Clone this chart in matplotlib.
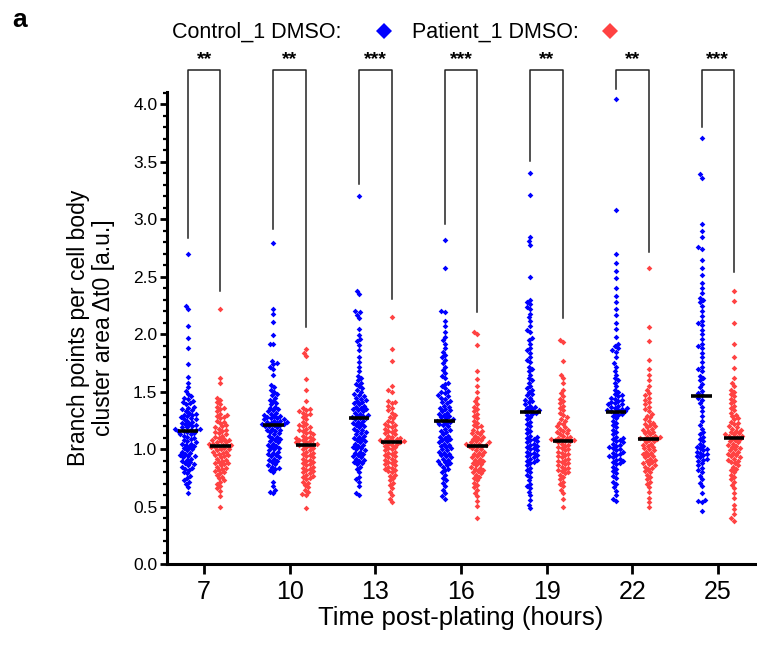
import numpy as np
import matplotlib
matplotlib.use("Agg")
import matplotlib.pyplot as plt
from matplotlib.lines import Line2D
from matplotlib.ticker import MultipleLocator

plt.rcParams['font.family'] = ['Liberation Sans', 'DejaVu Sans']

# time points (hours) and significance
times = [7, 10, 13, 16, 19, 22, 25]
stars = ["**", "**", "***", "***", "**", "**", "***"]
# bottom ends of the bracket legs
leg_ctrl = [2.84, 2.92, 3.31, 2.96, 3.51, 4.13, 3.80]
leg_pat = [2.38, 2.06, 2.31, 2.19, 2.14, 2.72, 2.54]
bracket_top = 4.30

# Control_1 DMSO, one list per time point
c7 = [2.70, 2.25, 2.22, 2.07, 1.97, 1.88, 1.74, 1.63, 1.58, 1.54, 1.51, 1.48, 1.46, 1.45, 1.44,
      1.42, 1.41, 1.40, 1.39, 1.37, 1.36, 1.35, 1.34, 1.33, 1.32, 1.31, 1.30, 1.30, 1.29, 1.28,
      1.27, 1.26, 1.26, 1.25, 1.24, 1.23, 1.22, 1.22, 1.21, 1.20, 1.19, 1.19, 1.18, 1.18, 1.17,
      1.17, 1.16, 1.16, 1.15, 1.14, 1.13, 1.13, 1.12, 1.11, 1.10, 1.09, 1.08, 1.07, 1.06, 1.05,
      1.05, 1.04, 1.03, 1.02, 1.01, 1.00, 0.99, 0.98, 0.97, 0.96, 0.95, 0.94, 0.94, 0.93, 0.92,
      0.91, 0.90, 0.89, 0.88, 0.87, 0.86, 0.85, 0.84, 0.83, 0.82, 0.80, 0.79, 0.77, 0.75, 0.73,
      0.72, 0.70, 0.67, 0.62]
c10 = [2.79, 2.22, 2.18, 2.11, 1.99, 1.92, 1.92, 1.77, 1.75, 1.74, 1.72, 1.70, 1.65, 1.56, 1.54,
       1.52, 1.50, 1.48, 1.47, 1.45, 1.43, 1.42, 1.40, 1.39, 1.37, 1.36, 1.35, 1.34, 1.33, 1.32,
       1.31, 1.30, 1.29, 1.29, 1.28, 1.27, 1.27, 1.26, 1.26, 1.25, 1.25, 1.24, 1.24, 1.23, 1.23,
       1.22, 1.22, 1.21, 1.21, 1.20, 1.20, 1.19, 1.18, 1.17, 1.17, 1.16, 1.15, 1.14, 1.13, 1.12,
       1.11, 1.10, 1.09, 1.08, 1.07, 1.06, 1.05, 1.04, 1.03, 1.02, 1.01, 1.00, 0.99, 0.98, 0.97,
       0.96, 0.95, 0.94, 0.93, 0.92, 0.91, 0.90, 0.89, 0.87, 0.86, 0.85, 0.84, 0.83, 0.82, 0.80,
       0.72, 0.68, 0.65, 0.63, 0.62]
c13 = [3.20, 2.38, 2.35, 2.20, 2.19, 2.17, 2.14, 2.05, 1.99, 1.96, 1.94, 1.91, 1.86, 1.80, 1.76,
       1.72, 1.68, 1.64, 1.62, 1.60, 1.58, 1.57, 1.55, 1.53, 1.52, 1.50, 1.48, 1.47, 1.46, 1.45,
       1.44, 1.43, 1.42, 1.41, 1.40, 1.39, 1.38, 1.37, 1.36, 1.35, 1.35, 1.34, 1.33, 1.32, 1.31,
       1.30, 1.29, 1.29, 1.28, 1.27, 1.27, 1.26, 1.25, 1.24, 1.23, 1.22, 1.21, 1.20, 1.19, 1.18,
       1.17, 1.16, 1.15, 1.14, 1.13, 1.12, 1.11, 1.10, 1.09, 1.08, 1.07, 1.06, 1.05, 1.04, 1.03,
       1.02, 1.01, 1.00, 0.99, 0.98, 0.97, 0.96, 0.95, 0.94, 0.93, 0.92, 0.91, 0.90, 0.89, 0.88,
       0.87, 0.85, 0.83, 0.80, 0.76, 0.74, 0.72, 0.68, 0.62, 0.60]
c16 = [2.82, 2.58, 2.20, 2.19, 2.12, 2.07, 2.02, 1.98, 1.95, 1.92, 1.88, 1.85, 1.82, 1.80, 1.78,
       1.75, 1.72, 1.69, 1.66, 1.64, 1.62, 1.58, 1.57, 1.55, 1.53, 1.51, 1.50, 1.49, 1.47, 1.46,
       1.45, 1.44, 1.42, 1.41, 1.40, 1.38, 1.37, 1.36, 1.35, 1.34, 1.33, 1.32, 1.31, 1.30, 1.29,
       1.28, 1.27, 1.26, 1.25, 1.25, 1.24, 1.23, 1.22, 1.21, 1.20, 1.18, 1.17, 1.16, 1.15, 1.13,
       1.12, 1.11, 1.10, 1.09, 1.08, 1.07, 1.06, 1.05, 1.04, 1.03, 1.02, 1.01, 1.00, 0.99, 0.98,
       0.97, 0.96, 0.95, 0.94, 0.93, 0.92, 0.91, 0.90, 0.89, 0.88, 0.87, 0.86, 0.85, 0.83, 0.82,
       0.80, 0.78, 0.75, 0.73, 0.71, 0.68, 0.65, 0.62, 0.59, 0.57]
c19 = [3.40, 3.21, 2.85, 2.81, 2.78, 2.50, 2.30, 2.28, 2.26, 2.24, 2.22, 2.18, 2.15, 2.12, 2.07,
       2.04, 2.02, 1.97, 1.95, 1.92, 1.88, 1.86, 1.84, 1.80, 1.78, 1.76, 1.72, 1.70, 1.68, 1.65,
       1.62, 1.60, 1.58, 1.55, 1.53, 1.52, 1.50, 1.48, 1.47, 1.45, 1.43, 1.42, 1.41, 1.39, 1.38,
       1.37, 1.36, 1.35, 1.34, 1.33, 1.33, 1.32, 1.31, 1.30, 1.28, 1.26, 1.24, 1.22, 1.20, 1.18,
       1.16, 1.14, 1.12, 1.11, 1.10, 1.09, 1.08, 1.07, 1.06, 1.05, 1.04, 1.03, 1.02, 1.01, 1.00,
       0.99, 0.98, 0.97, 0.96, 0.95, 0.94, 0.93, 0.92, 0.91, 0.90, 0.89, 0.88, 0.86, 0.84, 0.82,
       0.80, 0.78, 0.76, 0.73, 0.70, 0.68, 0.66, 0.63, 0.60, 0.56, 0.52, 0.49]
c22 = [4.05, 3.08, 2.70, 2.62, 2.55, 2.49, 2.40, 2.33, 2.28, 2.22, 2.17, 2.10, 2.05, 1.98, 1.92,
       1.90, 1.88, 1.86, 1.85, 1.80, 1.75, 1.72, 1.68, 1.65, 1.62, 1.60, 1.58, 1.55, 1.52, 1.50,
       1.48, 1.47, 1.46, 1.45, 1.44, 1.43, 1.42, 1.41, 1.40, 1.39, 1.39, 1.38, 1.37, 1.36, 1.36,
       1.35, 1.34, 1.34, 1.33, 1.33, 1.32, 1.31, 1.30, 1.29, 1.27, 1.25, 1.23, 1.21, 1.19, 1.17,
       1.15, 1.13, 1.11, 1.10, 1.09, 1.08, 1.07, 1.06, 1.05, 1.04, 1.03, 1.02, 1.01, 1.00, 0.99,
       0.98, 0.97, 0.96, 0.95, 0.94, 0.93, 0.92, 0.91, 0.90, 0.89, 0.88, 0.87, 0.85, 0.83, 0.81,
       0.79, 0.77, 0.75, 0.72, 0.70, 0.67, 0.64, 0.60, 0.57, 0.55]
c25 = [3.71, 3.39, 3.36, 2.96, 2.90, 2.85, 2.76, 2.74, 2.65, 2.58, 2.52, 2.45, 2.40, 2.36, 2.32,
       2.30, 2.28, 2.25, 2.20, 2.16, 2.12, 2.10, 2.08, 2.04, 2.00, 1.96, 1.92, 1.90, 1.88, 1.84,
       1.80, 1.76, 1.72, 1.70, 1.68, 1.64, 1.62, 1.60, 1.57, 1.54, 1.51, 1.49, 1.47, 1.45, 1.43,
       1.40, 1.37, 1.33, 1.29, 1.25, 1.21, 1.18, 1.15, 1.13, 1.11, 1.09, 1.07, 1.05, 1.03, 1.02,
       1.01, 1.00, 0.99, 0.98, 0.97, 0.96, 0.95, 0.94, 0.93, 0.92, 0.91, 0.90, 0.88, 0.86, 0.84,
       0.82, 0.80, 0.77, 0.74, 0.71, 0.68, 0.62, 0.56, 0.55, 0.54, 0.46]

# Patient_1 DMSO
p7 = [2.22, 1.62, 1.58, 1.45, 1.43, 1.41, 1.39, 1.37, 1.36, 1.35, 1.33, 1.31, 1.30, 1.29, 1.28,
      1.27, 1.25, 1.24, 1.23, 1.21, 1.20, 1.19, 1.18, 1.17, 1.16, 1.15, 1.14, 1.13, 1.12, 1.11,
      1.10, 1.09, 1.08, 1.08, 1.07, 1.06, 1.06, 1.05, 1.05, 1.04, 1.04, 1.03, 1.03, 1.02, 1.02,
      1.01, 1.00, 1.00, 0.99, 0.98, 0.98, 0.97, 0.96, 0.95, 0.95, 0.94, 0.93, 0.92, 0.91, 0.90,
      0.89, 0.88, 0.88, 0.87, 0.86, 0.85, 0.84, 0.83, 0.82, 0.81, 0.80, 0.79, 0.78, 0.76, 0.75,
      0.73, 0.72, 0.70, 0.68, 0.66, 0.64, 0.59, 0.50]
p10 = [1.87, 1.84, 1.81, 1.61, 1.52, 1.42, 1.36, 1.35, 1.34, 1.33, 1.32, 1.31, 1.30, 1.28, 1.26,
       1.24, 1.22, 1.21, 1.20, 1.19, 1.18, 1.17, 1.16, 1.15, 1.14, 1.13, 1.12, 1.11, 1.10, 1.10,
       1.09, 1.08, 1.08, 1.07, 1.06, 1.06, 1.05, 1.05, 1.04, 1.04, 1.03, 1.02, 1.01, 1.00, 0.99,
       0.98, 0.97, 0.96, 0.95, 0.94, 0.93, 0.92, 0.91, 0.90, 0.89, 0.88, 0.87, 0.86, 0.85, 0.84,
       0.83, 0.82, 0.81, 0.80, 0.79, 0.78, 0.77, 0.76, 0.75, 0.74, 0.72, 0.71, 0.69, 0.67, 0.65,
       0.63, 0.61, 0.60, 0.49]
p13 = [2.15, 1.87, 1.77, 1.55, 1.52, 1.50, 1.42, 1.41, 1.40, 1.38, 1.36, 1.34, 1.32, 1.30, 1.28,
       1.27, 1.25, 1.24, 1.22, 1.21, 1.20, 1.19, 1.18, 1.17, 1.16, 1.15, 1.14, 1.13, 1.12, 1.11,
       1.10, 1.09, 1.09, 1.08, 1.08, 1.07, 1.07, 1.06, 1.06, 1.05, 1.05, 1.04, 1.03, 1.02, 1.01,
       1.00, 0.99, 0.98, 0.97, 0.96, 0.95, 0.94, 0.93, 0.92, 0.91, 0.90, 0.89, 0.88, 0.87, 0.86,
       0.85, 0.84, 0.83, 0.82, 0.81, 0.80, 0.78, 0.77, 0.75, 0.73, 0.71, 0.69, 0.66, 0.63, 0.60,
       0.57, 0.54]
p16 = [2.02, 2.00, 1.91, 1.68, 1.61, 1.55, 1.50, 1.45, 1.42, 1.39, 1.37, 1.35, 1.33, 1.31, 1.29,
       1.27, 1.25, 1.23, 1.21, 1.20, 1.19, 1.17, 1.16, 1.15, 1.14, 1.13, 1.12, 1.11, 1.10, 1.09,
       1.08, 1.07, 1.06, 1.06, 1.05, 1.05, 1.04, 1.04, 1.03, 1.03, 1.02, 1.01, 1.00, 0.99, 0.98,
       0.97, 0.96, 0.95, 0.94, 0.93, 0.92, 0.91, 0.90, 0.89, 0.88, 0.87, 0.86, 0.85, 0.84, 0.83,
       0.82, 0.81, 0.80, 0.79, 0.78, 0.76, 0.75, 0.73, 0.71, 0.69, 0.67, 0.65, 0.62, 0.59, 0.55,
       0.51, 0.40]
p19 = [1.95, 1.93, 1.77, 1.65, 1.62, 1.58, 1.52, 1.49, 1.46, 1.44, 1.42, 1.40, 1.38, 1.36, 1.34,
       1.32, 1.30, 1.28, 1.26, 1.25, 1.23, 1.22, 1.20, 1.19, 1.18, 1.17, 1.16, 1.15, 1.14, 1.13,
       1.12, 1.11, 1.10, 1.10, 1.09, 1.09, 1.08, 1.08, 1.07, 1.07, 1.06, 1.05, 1.04, 1.03, 1.02,
       1.01, 1.00, 0.99, 0.98, 0.97, 0.96, 0.95, 0.94, 0.93, 0.92, 0.91, 0.90, 0.89, 0.88, 0.87,
       0.86, 0.85, 0.84, 0.83, 0.82, 0.81, 0.80, 0.79, 0.78, 0.76, 0.74, 0.72, 0.70, 0.68, 0.65,
       0.62, 0.57, 0.50]
p22 = [2.58, 2.06, 1.94, 1.78, 1.70, 1.65, 1.60, 1.55, 1.52, 1.49, 1.47, 1.45, 1.43, 1.41, 1.39,
       1.37, 1.35, 1.33, 1.31, 1.29, 1.28, 1.26, 1.25, 1.23, 1.22, 1.21, 1.20, 1.19, 1.18, 1.17,
       1.16, 1.15, 1.14, 1.13, 1.12, 1.11, 1.11, 1.10, 1.10, 1.09, 1.09, 1.08, 1.07, 1.06, 1.05,
       1.04, 1.03, 1.02, 1.01, 1.00, 0.99, 0.98, 0.97, 0.96, 0.95, 0.94, 0.93, 0.92, 0.91, 0.90,
       0.89, 0.88, 0.87, 0.86, 0.85, 0.84, 0.83, 0.81, 0.80, 0.78, 0.76, 0.74, 0.72, 0.70, 0.67,
       0.63, 0.58, 0.54, 0.50]
p25 = [2.38, 2.29, 2.10, 1.92, 1.80, 1.71, 1.62, 1.58, 1.55, 1.52, 1.50, 1.48, 1.46, 1.44, 1.42,
       1.40, 1.38, 1.36, 1.34, 1.32, 1.30, 1.29, 1.27, 1.26, 1.24, 1.23, 1.22, 1.20, 1.19, 1.18,
       1.17, 1.16, 1.15, 1.14, 1.13, 1.13, 1.12, 1.12, 1.11, 1.10, 1.09, 1.08, 1.07, 1.06, 1.05,
       1.04, 1.03, 1.02, 1.01, 1.00, 0.99, 0.98, 0.97, 0.96, 0.95, 0.94, 0.93, 0.92, 0.91, 0.90,
       0.89, 0.88, 0.86, 0.85, 0.83, 0.82, 0.80, 0.78, 0.76, 0.74, 0.72, 0.69, 0.66, 0.62, 0.58,
       0.52, 0.48, 0.44, 0.40, 0.38]

control = [c7, c10, c13, c16, c19, c22, c25]
patient = [p7, p10, p13, p16, p19, p22, p25]

blue = "#0000FF"
red = "#FF4242"
dodge = 0.57
xlim = (5.7, 26.3)
ylim = (0, 4.11)

W, H = 757, 647
fig = plt.figure(figsize=(W / 100, H / 100), dpi=100)
ax_box = [167 / W, 82.7 / H, 588 / W, 472.6 / H]
ax = fig.add_axes(ax_box)
ax.set_xlim(*xlim)
ax.set_ylim(*ylim)

# pixels per data unit, for the swarm layout
xpx = ax_box[2] * W / (xlim[1] - xlim[0])
ypx = ax_box[3] * H / (ylim[1] - ylim[0])


def swarm(vals, d=3.9):
    ys = np.sort(np.asarray(vals)) * ypx
    placed = []
    for y in ys:
        near = [(px, py) for px, py in placed if abs(py - y) < d]
        cands = [0.0]
        for px, py in near:
            dx = np.sqrt(d * d - (py - y) ** 2)
            cands += [px - dx, px + dx]
        cands.sort(key=abs)
        for c in cands:
            if all((c - px) ** 2 + (y - py) ** 2 >= d * d - 1e-6 for px, py in near):
                break
        placed.append((c, y))
    arr = np.array(placed)
    return arr[:, 0] / xpx, arr[:, 1] / ypx


for t, cv, pv in zip(times, control, patient):
    for vals, pos, col in [(cv, t - dodge, blue), (pv, t + dodge, red)]:
        dx, yy = swarm(vals)
        ax.plot(pos + dx, yy, ls="none", marker="D", ms=2.9, mew=0, color=col, zorder=2)
        ax.hlines(np.median(vals), pos - 0.36, pos + 0.36, color="black", lw=2.6, zorder=3)

# significance brackets
for t, s, lc, lp in zip(times, stars, leg_ctrl, leg_pat):
    ax.plot([t - dodge, t - dodge, t + dodge, t + dodge], [lc, bracket_top, bracket_top, lp],
            color="#222222", lw=1.1, clip_on=False, zorder=1)
    ax.text(t, bracket_top + 0.015, s, ha="center", va="bottom", fontsize=14, fontweight="bold")

ax.spines["top"].set_visible(False)
ax.spines["right"].set_visible(False)
ax.spines["left"].set_linewidth(2.2)
ax.spines["bottom"].set_linewidth(2.2)

ax.set_xticks(times)
ax.yaxis.set_major_locator(MultipleLocator(0.5))
ax.yaxis.set_minor_locator(MultipleLocator(0.1))
ax.set_yticks(np.arange(0, 4.01, 0.5))
ax.set_yticklabels([f"{v:.1f}" for v in np.arange(0, 4.01, 0.5)])
ax.tick_params(axis="y", which="major", length=5, width=2, labelsize=12.5, pad=2)
ax.tick_params(axis="y", which="minor", length=3, width=1.6)
ax.tick_params(axis="x", which="major", length=7, width=2, labelsize=18, pad=4)

ax.set_xlabel("Time post-plating (hours)", fontsize=18.5, labelpad=2)
ax.set_ylabel("Branch points per cell body\ncluster area Δt0 [a.u.]", fontsize=16.5,
              linespacing=1.15)
ax.yaxis.set_label_coords(-0.088, 0.5)

# legend on top
fig.text(172 / W, 1 - 38 / H, "Control_1 DMSO:", fontsize=15.5, va="baseline")
fig.text(412 / W, 1 - 38 / H, "Patient_1 DMSO:", fontsize=15.5, va="baseline")
fig.add_artist(Line2D([384 / W], [1 - 31 / H], marker="D", ms=8.5, mew=0, color=blue,
                      transform=fig.transFigure))
fig.add_artist(Line2D([610 / W], [1 - 31 / H], marker="D", ms=8.5, mew=0, color=red,
                      transform=fig.transFigure))

fig.text(12 / W, 1 - 27 / H, "a", fontsize=19, fontweight="bold", va="baseline")

fig.savefig("out.png", dpi=100)
